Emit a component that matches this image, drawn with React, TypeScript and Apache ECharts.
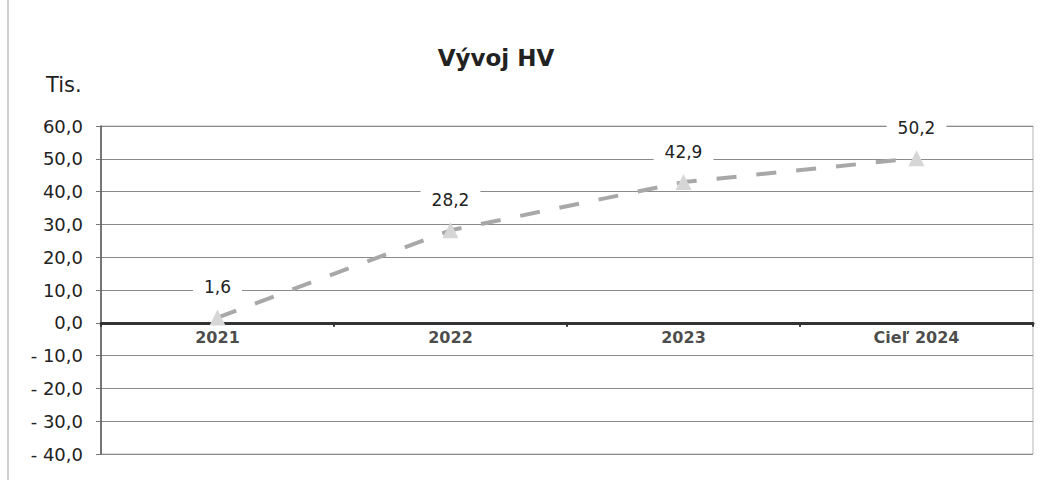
import React, { useEffect, useRef } from "react";
import * as echarts from "echarts";

const categories = ["2021", "2022", "2023", "Cieľ 2024"];
const values = [1.6, 28.2, 42.9, 50.2];
const axisBase = [0, 0, 0, 0];
const yMin = -40;
const yMax = 60;
const yInterval = 10;

const fmt = (v: number) => {
  const s = Math.abs(v).toFixed(1).replace(".", ",");
  return v < 0 ? "- " + s : s;
};

export default function App() {
  const ref = useRef<HTMLDivElement>(null);
  useEffect(() => {
    document.body.style.margin = "0";
    const chart = echarts.init(ref.current!, null, { renderer: "svg" });
    chart.setOption({
      animation: false,
      backgroundColor: "#ffffff",
      title: {
        text: "Vývoj HV",
        left: 491,
        textAlign: "center",
        top: 41,
        textStyle: {
          fontFamily: "DejaVu Sans",
          fontSize: 23,
          fontWeight: "bold",
          color: "#222",
        },
      },
      graphic: [
        {
          type: "text",
          left: 46,
          top: 74,
          style: { text: "Tis.", font: "21px 'DejaVu Sans'", fill: "#222" },
        },
        {
          type: "line",
          shape: { x1: 8, y1: 0, x2: 8, y2: 480 },
          style: { stroke: "#cfcfcf", lineWidth: 2 },
        },
      ],
      grid: {
        left: 101,
        right: 15,
        top: 126,
        bottom: 41,
        containLabel: false,
        show: true,
        borderColor: "#b5b5b5",
        borderWidth: 1,
      },
      xAxis: {
        type: "category",
        data: categories,
        boundaryGap: true,
        axisLine: { onZero: true, lineStyle: { color: "#333", width: 3 } },
        axisTick: { show: true, interval: 0, length: 4, lineStyle: { color: "#333", width: 2 } },
        axisLabel: { show: false },
        splitLine: { show: false },
      },
      yAxis: {
        type: "value",
        min: yMin,
        max: yMax,
        interval: yInterval,
        axisLine: { show: true, lineStyle: { color: "#555", width: 1.5 } },
        axisTick: { show: true, length: 5, lineStyle: { color: "#777" } },
        axisLabel: {
          formatter: fmt,
          fontFamily: "DejaVu Sans",
          fontSize: 18,
          color: "#222",
          margin: 18,
        },
        splitLine: { show: true, lineStyle: { color: "#8a8a8a", width: 1 } },
      },
      series: [
        {
          type: "scatter",
          data: axisBase,
          symbolSize: 0,
          silent: true,
          label: {
            show: true,
            position: "bottom",
            distance: 7,
            formatter: (p: any) => categories[p.dataIndex],
            fontFamily: "DejaVu Sans",
            fontSize: 16,
            fontWeight: "bold",
            color: "#1a1a1a",
          },
          z: 1,
        },
        {
          type: "line",
          data: values,
          symbol: "triangle",
          symbolSize: 16,
          itemStyle: { color: "#d6d6d6" },
          lineStyle: { color: "#a8a8a8", width: 4, type: [20, 20] },
          label: {
            show: true,
            position: "top",
            distance: 12,
            formatter: (p: any) => fmt(p.value),
            fontFamily: "DejaVu Sans",
            fontSize: 17,
            color: "#222",
            backgroundColor: "#ffffff",
            padding: [2, 11],
          },
          z: 5,
        },
      ],
    });
    return () => chart.dispose();
  }, []);
  return (
    <div
      ref={ref}
      style={{ position: "fixed", left: 0, top: 0, width: 1048, height: 495 }}
    />
  );
}
